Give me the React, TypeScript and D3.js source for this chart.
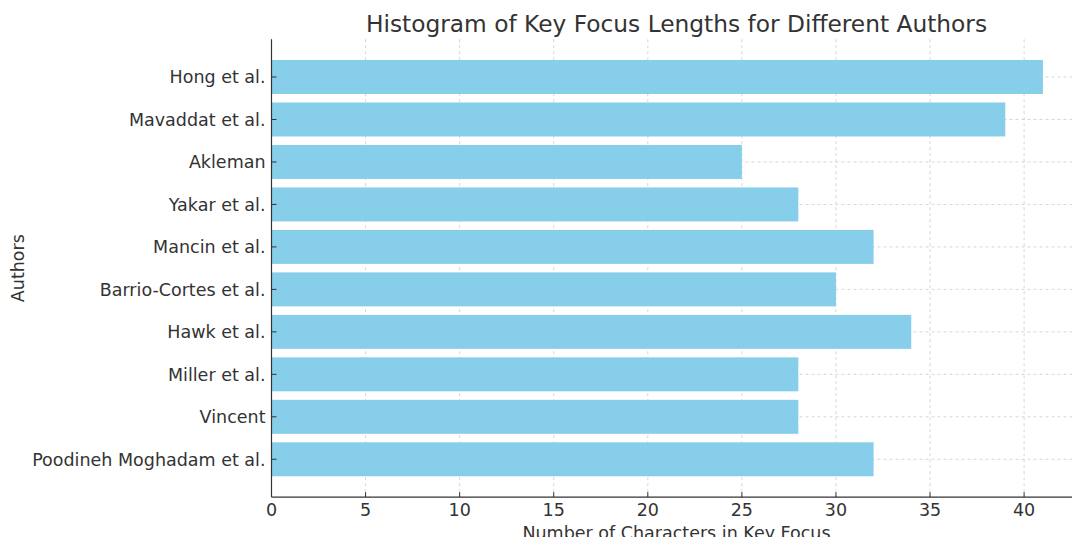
import React from 'react';
import * as d3 from 'd3';

const authors = [
  'Hong et al.',
  'Mavaddat et al.',
  'Akleman',
  'Yakar et al.',
  'Mancin et al.',
  'Barrio-Cortes et al.',
  'Hawk et al.',
  'Miller et al.',
  'Vincent',
  'Poodineh Moghadam et al.',
];
const lengths = [41, 39, 25, 28, 32, 30, 34, 28, 28, 32];
const xTicks = [0, 5, 10, 15, 20, 25, 30, 35, 40];

const W = 1072;
const H = 537;
const left = 271.5;
const right = 1081.5;
const top = 39.2;
const bottom = 497.1;
const FONT = "'DejaVu Sans', sans-serif";
const TXT = '#333333';
const FS = 17.5;

export default function App() {
  const maxV = d3.max(lengths) as number;
  const x = d3.scaleLinear().domain([0, maxV * 1.05]).range([left, right]);
  const n = authors.length;
  const y = d3
    .scaleLinear()
    .domain([-0.4 - 0.49, n - 1 + 0.4 + 0.49])
    .range([top, bottom]);
  const barH = Math.abs(y(0.8) - y(0));

  return (
    <svg
      width={W}
      height={H}
      style={{ position: 'absolute', left: 0, top: 0, background: '#fff', fontFamily: FONT }}
    >
      <defs>
        <clipPath id="clip">
          <rect x={left} y={0} width={W - left} height={bottom} />
        </clipPath>
      </defs>
      <g stroke="#cccccc" strokeWidth={0.8} strokeDasharray="3,3">
        {xTicks.map((t) => (
          <line key={'gx' + t} x1={x(t)} x2={x(t)} y1={top} y2={bottom} />
        ))}
        {authors.map((a, i) => (
          <line key={'gy' + a} x1={left} x2={W} y1={y(i)} y2={y(i)} />
        ))}
      </g>
      <g clipPath="url(#clip)">
        {authors.map((a, i) => (
          <rect
            key={a}
            x={x(0)}
            y={y(i) - barH / 2}
            width={x(lengths[i]) - x(0)}
            height={barH}
            fill="#87CEEB"
          />
        ))}
      </g>
      <line x1={left} x2={left} y1={top} y2={bottom} stroke="#333" strokeWidth={1.2} />
      <line x1={left} x2={W} y1={bottom} y2={bottom} stroke="#333" strokeWidth={1.2} />
      <g stroke="#333" strokeWidth={1}>
        {xTicks.map((t) => (
          <line key={'tx' + t} x1={x(t)} x2={x(t)} y1={bottom} y2={bottom - 5} />
        ))}
        {authors.map((a, i) => (
          <line key={'ty' + a} x1={left} x2={left + 5} y1={y(i)} y2={y(i)} />
        ))}
      </g>
      <g fontSize={FS} fill={TXT}>
        {xTicks.map((t) => (
          <text key={'lx' + t} x={x(t)} y={516} textAnchor="middle">
            {t}
          </text>
        ))}
        {authors.map((a, i) => (
          <text key={'ly' + a} x={left - 6} y={y(i)} dy="0.36em" textAnchor="end">
            {a}
          </text>
        ))}
      </g>
      <text x={(left + right) / 2} y={539} textAnchor="middle" fontSize={FS} fill={TXT}>
        Number of Characters in Key Focus
      </text>
      <text
        transform={`translate(23.5, ${(top + bottom) / 2}) rotate(-90)`}
        textAnchor="middle"
        fontSize={FS}
        fill={TXT}
      >
        Authors
      </text>
      <text x={(left + right) / 2} y={32} textAnchor="middle" fontSize={23.3} fill={TXT}>
        Histogram of Key Focus Lengths for Different Authors
      </text>
    </svg>
  );
}
